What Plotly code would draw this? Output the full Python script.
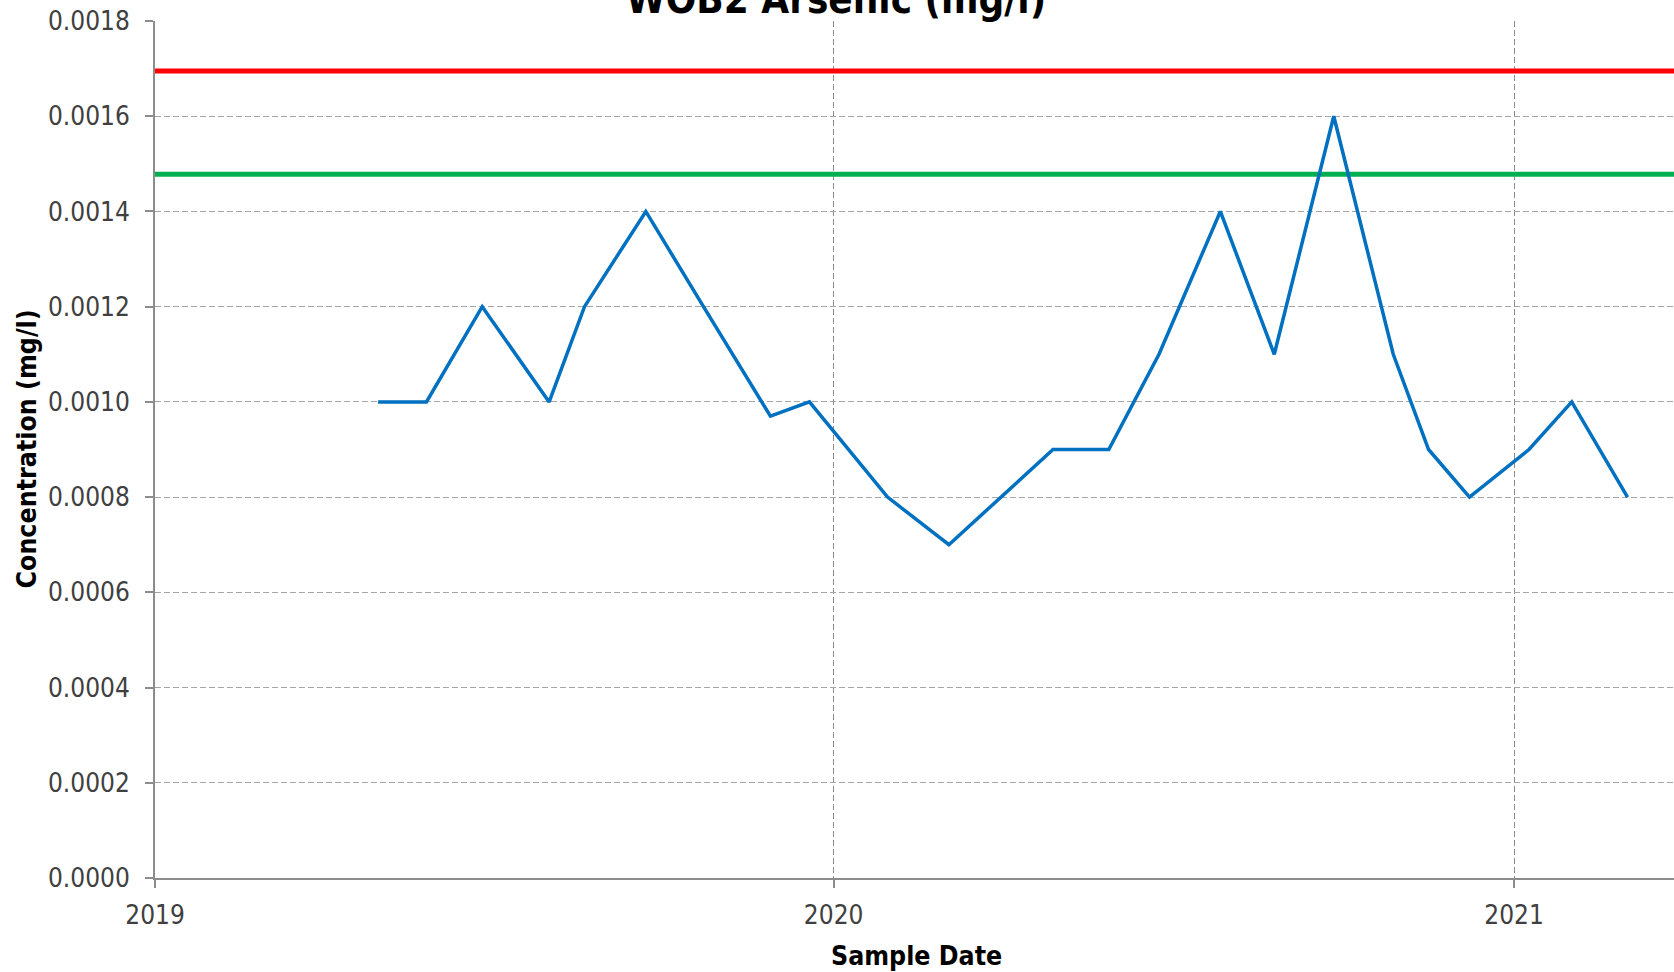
import plotly.graph_objects as go

# Arsenic results for WOB2 (mg/l)
sample_dates = [
    "2019-05-01", "2019-05-27", "2019-06-26", "2019-08-01", "2019-08-20",
    "2019-09-22", "2019-10-23", "2019-11-28", "2019-12-19", "2020-01-30",
    "2020-03-03", "2020-04-28", "2020-05-28", "2020-06-24", "2020-07-27",
    "2020-08-25", "2020-09-26", "2020-10-28", "2020-11-16", "2020-12-08",
    "2021-01-09", "2021-02-01", "2021-03-03",
]
arsenic = [
    0.0010, 0.0010, 0.0012, 0.0010, 0.0012,
    0.0014, 0.0012, 0.00097, 0.0010, 0.0008,
    0.0007, 0.0009, 0.0009, 0.0011, 0.0014,
    0.0011, 0.0016, 0.0011, 0.0009, 0.0008,
    0.0009, 0.0010, 0.0008,
]

# Control limits drawn across the whole date range
upper_limit = 0.001695
warning_limit = 0.001478
x_range = ["2019-01-01", "2021-03-28"]
y_range = [0, 0.0018]

FONT = "DejaVu Sans Condensed, DejaVu Sans, sans-serif"

fig = go.Figure()
fig.add_trace(go.Scatter(
    x=x_range, y=[upper_limit, upper_limit], mode="lines",
    line=dict(color="#FF0000", width=5), hoverinfo="skip", showlegend=False,
))
fig.add_trace(go.Scatter(
    x=x_range, y=[warning_limit, warning_limit], mode="lines",
    line=dict(color="#00B050", width=5), hoverinfo="skip", showlegend=False,
))
fig.add_trace(go.Scatter(
    x=sample_dates, y=arsenic, mode="lines",
    line=dict(color="#0070C0", width=3.5), showlegend=False,
))

fig.update_layout(
    width=1674, height=972,
    margin=dict(l=155, r=0, t=21, b=94),
    paper_bgcolor="white", plot_bgcolor="white",
    font=dict(family=FONT, color="#404040"),
    showlegend=False,
)
fig.update_xaxes(
    type="date", range=x_range,
    tick0="2019-01-01", dtick="M12", tickformat="%Y",
    showline=True, linecolor="#8c8c8c", linewidth=2,
    ticks="outside", ticklen=8, tickwidth=2, tickcolor="#8c8c8c",
    ticklabelstandoff=5,
    tickfont=dict(size=26, color="#404040", family=FONT),
    showgrid=True, gridcolor="#8c8c8c", gridwidth=1, griddash="6px,3px",
    zeroline=False,
)
fig.update_yaxes(
    range=y_range, dtick=0.0002, tickformat=".4f",
    showline=True, linecolor="#8c8c8c", linewidth=2,
    ticks="outside", ticklen=8, tickwidth=2, tickcolor="#8c8c8c",
    ticklabelstandoff=10,
    tickfont=dict(size=26, color="#404040", family=FONT),
    showgrid=True, gridcolor="#a6a6a6", gridwidth=1, griddash="6px,3px",
    zeroline=False,
)

fig.add_annotation(
    text="<b>WOB2 Arsenic (mg/l)</b>", xref="paper", yref="paper",
    x=0.448, y=1, xanchor="center", yanchor="bottom", yshift=-3,
    showarrow=False, font=dict(size=40, color="black", family=FONT),
)
fig.add_annotation(
    text="<b>Concentration (mg/l)</b>", xref="paper", yref="paper",
    x=0, y=0.5, xanchor="center", yanchor="middle", xshift=-129,
    textangle=-90, showarrow=False, font=dict(size=26.5, color="black", family=FONT),
)
fig.add_annotation(
    text="<b>Sample Date</b>", xref="paper", yref="paper",
    x=0.501, y=0, xanchor="center", yanchor="middle", yshift=-77,
    showarrow=False, font=dict(size=26.5, color="black", family=FONT),
)

fig.write_html("out.html")
